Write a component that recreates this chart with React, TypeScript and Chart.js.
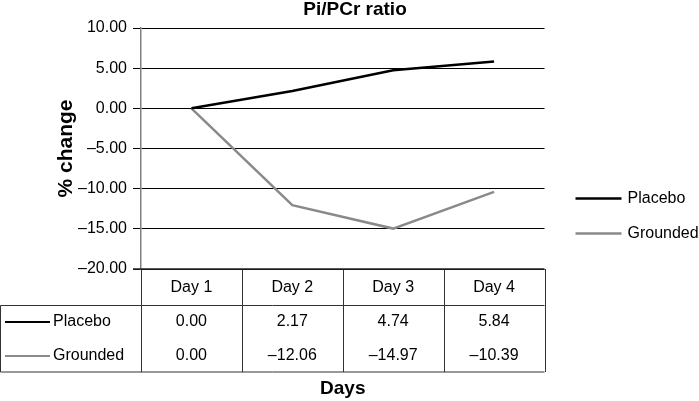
import React, { useEffect, useRef } from "react";
import { Chart, registerables } from "chart.js";

Chart.register(...registerables);

const chartTitle = "Pi/PCr ratio";
const xAxisTitle = "Days";
const yAxisTitle = "% change";
const categories = ["Day 1", "Day 2", "Day 3", "Day 4"];
const seriesNames = ["Placebo", "Grounded"];
const placeboValues = [0.0, 2.17, 4.74, 5.84];
const groundedValues = [0.0, -12.06, -14.97, -10.39];
const seriesColors = ["#000000", "#8a8a8a"];
const yMin = -20;
const yMax = 10;
const yStep = 5;

const FONT = "'Liberation Sans', Arial, Helvetica, sans-serif";

const fmt = (v: number) => {
  const s = Math.abs(v).toFixed(2);
  return v < 0 ? "\u2013" + s : s;
};

const tablePlugin = {
  id: "excelTable",
  afterDraw(chart: any) {
    const { ctx, chartArea, scales } = chart;
    const xs = scales.x;
    const { left, right, top, bottom } = chartArea;
    const colW = xs.getPixelForValue(1) - xs.getPixelForValue(0);
    const headerBottom = bottom + 36.5;
    const tableBottom = bottom + 103;
    const rowY = [bottom + 53, bottom + 87];
    ctx.save();
    // table lines
    ctx.strokeStyle = "#333333";
    ctx.lineWidth = 1;
    ctx.beginPath();
    ctx.moveTo(0.5, headerBottom);
    ctx.lineTo(right, headerBottom);
    ctx.moveTo(0.5, tableBottom);
    ctx.lineTo(right, tableBottom);
    ctx.moveTo(0.5, headerBottom);
    ctx.lineTo(0.5, tableBottom);
    for (let i = 0; i <= categories.length; i++) {
      const x = Math.round(xs.getPixelForValue(0) - colW / 2 + i * colW) + 0.5;
      ctx.moveTo(x, bottom);
      ctx.lineTo(x, tableBottom);
    }
    ctx.stroke();
    ctx.lineWidth = 1.5;
    ctx.strokeStyle = "#222222";
    ctx.beginPath();
    ctx.moveTo(left - 8, bottom);
    ctx.lineTo(right, bottom);
    ctx.stroke();

    // header
    ctx.fillStyle = "#000";
    ctx.font = `16px ${FONT}`;
    ctx.textAlign = "center";
    ctx.textBaseline = "middle";
    categories.forEach((c, i) => {
      ctx.fillText(c, xs.getPixelForValue(i), bottom + 18.5);
    });
    const allValues = [placeboValues, groundedValues];
    allValues.forEach((vals, r) => {
      vals.forEach((v, i) => {
        ctx.fillText(fmt(v), xs.getPixelForValue(i), rowY[r]);
      });
    });
    // row keys
    seriesNames.forEach((name, r) => {
      ctx.strokeStyle = seriesColors[r];
      ctx.lineWidth = 2;
      ctx.beginPath();
      ctx.moveTo(5, rowY[r]);
      ctx.lineTo(50, rowY[r]);
      ctx.stroke();
      ctx.textAlign = "left";
      ctx.fillText(name, 53, rowY[r]);
    });

    // side legend
    const legY = [198.5, 233.5];
    seriesNames.forEach((name, r) => {
      ctx.strokeStyle = seriesColors[r];
      ctx.lineWidth = 2.5;
      ctx.beginPath();
      ctx.moveTo(right + 31, legY[r]);
      ctx.lineTo(right + 77, legY[r]);
      ctx.stroke();
      ctx.textAlign = "left";
      ctx.fillText(name, right + 83, legY[r]);
    });

    // titles
    ctx.font = `bold 19px ${FONT}`;
    ctx.textAlign = "center";
    ctx.fillText(chartTitle, 355, top - 18);
    ctx.fillText(xAxisTitle, (left + right) / 2, tableBottom + 17);
    ctx.restore();
  },
};

export default function App() {
  const ref = useRef<HTMLCanvasElement | null>(null);
  useEffect(() => {
    if (!ref.current) return;
    const chart = new Chart(ref.current, {
      type: "line",
      data: {
        labels: categories,
        datasets: [
          {
            label: seriesNames[0],
            data: placeboValues,
            borderColor: seriesColors[0],
            borderWidth: 2.5,
            pointRadius: 0,
            tension: 0,
          },
          {
            label: seriesNames[1],
            data: groundedValues,
            borderColor: seriesColors[1],
            borderWidth: 2.5,
            pointRadius: 0,
            tension: 0,
          },
        ],
      },
      options: {
        animation: false,
        responsive: false,
        maintainAspectRatio: false,
        layout: { padding: { left: 0, top: 28, right: 154.5, bottom: 132 } },
        plugins: {
          legend: { display: false },
          title: { display: false },
          tooltip: { enabled: false },
        },
        scales: {
          x: {
            type: "category",
            display: false,
            offset: true,
          },
          y: {
            min: yMin,
            max: yMax,
            afterFit: (scale: any) => {
              scale.width = 141;
            },
            ticks: {
              stepSize: yStep,
              color: "#000",
              padding: 6,
              font: { family: FONT, size: 16 },
              callback: (v: any) => fmt(Number(v)),
            },
            grid: {
              color: "#000",
              lineWidth: 1,
              tickLength: 8,
              drawTicks: true,
            },
            border: { color: "#808080", width: 1.5 },
            title: {
              display: true,
              text: yAxisTitle,
              color: "#000",
              font: { family: FONT, size: 21, weight: "bold" },
              padding: { top: 54, bottom: 0 },
            },
          },
        },
      },
      plugins: [tablePlugin],
    });
    return () => chart.destroy();
  }, []);
  return (
    <div style={{ position: "fixed", left: 0, top: 0, width: 699, height: 401, background: "#fff" }}>
      <canvas ref={ref} width={699} height={401} style={{ width: 699, height: 401 }} />
    </div>
  );
}
